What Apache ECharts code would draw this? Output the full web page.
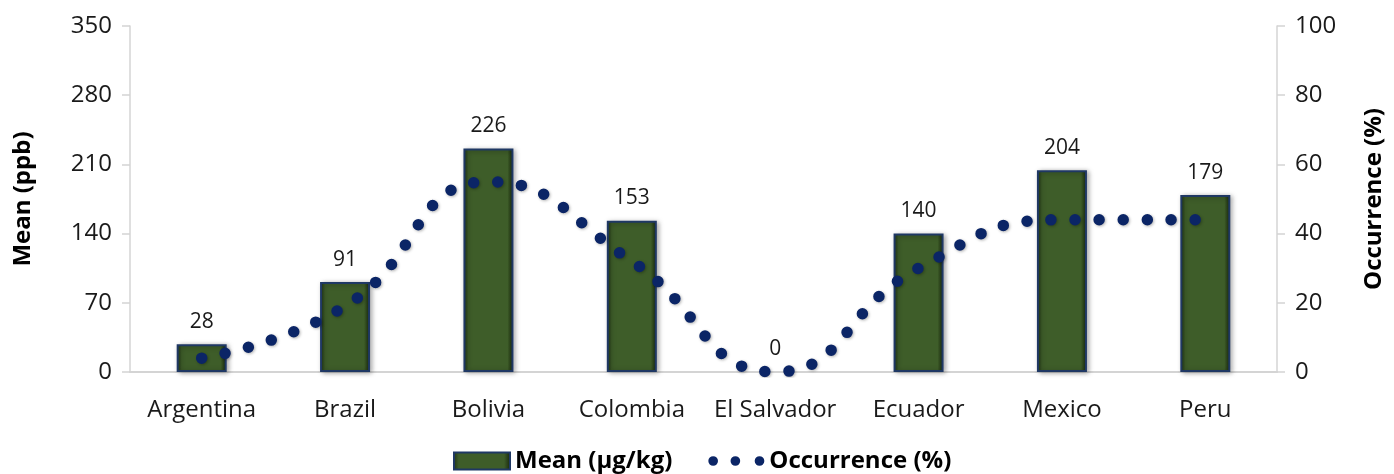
<!DOCTYPE html>
<html>
<head>
<meta charset="utf-8">
<script src="https://cdn.jsdelivr.net/npm/echarts@6/dist/echarts.min.js"></script>
<style>
  html, body { margin: 0; padding: 0; background: #ffffff; }
  #chart { width: 1394px; height: 474px; }
</style>
</head>
<body>
<div id="chart"></div>
<script>
// Countries on the category axis
const countries = ['Argentina', 'Brazil', 'Bolivia', 'Colombia', 'El Salvador', 'Ecuador', 'Mexico', 'Peru'];
// Mean concentration per country (left axis)
const meanValues = [28, 91, 226, 153, 0, 140, 204, 179];
// Occurrence percentage per country (right axis)
const occurrenceValues = [4, 19, 55, 32, 0, 30, 44, 44];
// Axis ticks
const meanTicks = { min: 0, max: 350, interval: 70 };
const occurrenceTicks = { min: 0, max: 100, interval: 20 };
const meanName = 'Mean (µg/kg)';
const occurrenceName = 'Occurrence (%)';

const FONT = '"Open Sans", "Noto Sans", sans-serif';
const TEXT = '#1a1a1a';
const AXIS = '#d4d4d4';
const NAVY = '#0b2566';

const chart = echarts.init(document.getElementById('chart'), null, { renderer: 'canvas' });

const barFill = new echarts.graphic.LinearGradient(0, 0, 1, 0, [
  { offset: 0, color: '#1c2e12' },
  { offset: 0.1, color: '#3e5d29' },
  { offset: 0.88, color: '#3e5d29' },
  { offset: 1, color: '#142209' }
]);

// Zero-height bars get no outline so no stray stroke sits on the axis
const barData = meanValues.map(v => (v === 0 ? { value: v, itemStyle: { borderWidth: 0, shadowBlur: 0 } } : v));

// Three round dots for the occurrence legend entry
const dotsIcon = 'path://M0,5a5,5 0 1,0 10,0a5,5 0 1,0 -10,0Z' +
  'M23,5a5,5 0 1,0 10,0a5,5 0 1,0 -10,0Z' +
  'M48,5a5,5 0 1,0 10,0a5,5 0 1,0 -10,0Z';

chart.setOption({
  animation: false,
  textStyle: { fontFamily: FONT },
  grid: { left: 130, right: 111, top: 26, bottom: 102, containLabel: false },
  legend: {
    left: 453,
    top: 449,
    padding: 0,
    itemWidth: 56,
    itemHeight: 17,
    itemGap: 36,
    textStyle: { fontFamily: FONT, fontSize: 24, fontWeight: 'bold', color: '#000' },
    data: [
      { name: meanName, icon: 'rect' },
      { name: occurrenceName, icon: dotsIcon, itemStyle: { color: NAVY, borderWidth: 0, shadowBlur: 0 } }
    ]
  },
  xAxis: {
    type: 'category',
    data: countries,
    axisLine: { show: true, lineStyle: { color: AXIS, width: 2 } },
    axisTick: { show: false },
    axisLabel: { color: TEXT, fontSize: 24, fontFamily: FONT, margin: 26, interval: 0 },
    splitLine: { show: false }
  },
  yAxis: [
    {
      type: 'value',
      min: meanTicks.min, max: meanTicks.max, interval: meanTicks.interval,
      name: 'Mean (ppb)',
      nameLocation: 'middle',
      nameGap: 95,
      nameTextStyle: { fontSize: 24, fontWeight: 'bold', color: '#000', fontFamily: FONT },
      axisLine: { show: true, lineStyle: { color: AXIS, width: 1.5 } },
      axisTick: { show: true, length: 8, lineStyle: { color: AXIS, width: 1.5 } },
      axisLabel: { color: TEXT, fontSize: 24, fontFamily: FONT, margin: 18 },
      splitLine: { show: false }
    },
    {
      type: 'value',
      min: occurrenceTicks.min, max: occurrenceTicks.max, interval: occurrenceTicks.interval,
      name: occurrenceName,
      nameLocation: 'middle',
      nameGap: 85,
      nameRotate: 90,
      nameTextStyle: { fontSize: 24, fontWeight: 'bold', color: '#000', fontFamily: FONT },
      position: 'right',
      axisLine: { show: true, lineStyle: { color: AXIS, width: 1.5 } },
      axisTick: { show: true, length: 8, lineStyle: { color: AXIS, width: 1.5 } },
      axisLabel: { color: TEXT, fontSize: 24, fontFamily: FONT, margin: 18 },
      splitLine: { show: false }
    }
  ],
  series: [
    {
      name: meanName,
      type: 'bar',
      yAxisIndex: 0,
      data: barData,
      barWidth: 50,
      itemStyle: {
        color: barFill,
        borderColor: '#1f3864',
        borderWidth: 2,
        shadowColor: 'rgba(0,0,0,0.35)',
        shadowBlur: 5,
        shadowOffsetX: 2,
        shadowOffsetY: 1
      },
      label: {
        show: true,
        position: 'top',
        distance: 12,
        color: TEXT,
        fontSize: 21,
        fontFamily: FONT
      },
      z: 2
    },
    {
      name: occurrenceName,
      type: 'line',
      yAxisIndex: 1,
      data: occurrenceValues,
      smooth: 0.5,
      showSymbol: false,
      symbol: 'circle',
      itemStyle: { color: NAVY },
      lineStyle: {
        color: NAVY,
        width: 11.5,
        type: [0, 24],
        cap: 'round',
        shadowColor: 'rgba(0,0,0,0.3)',
        shadowBlur: 3,
        shadowOffsetX: 1,
        shadowOffsetY: 1
      },
      z: 3
    }
  ]
});
</script>
</body>
</html>
